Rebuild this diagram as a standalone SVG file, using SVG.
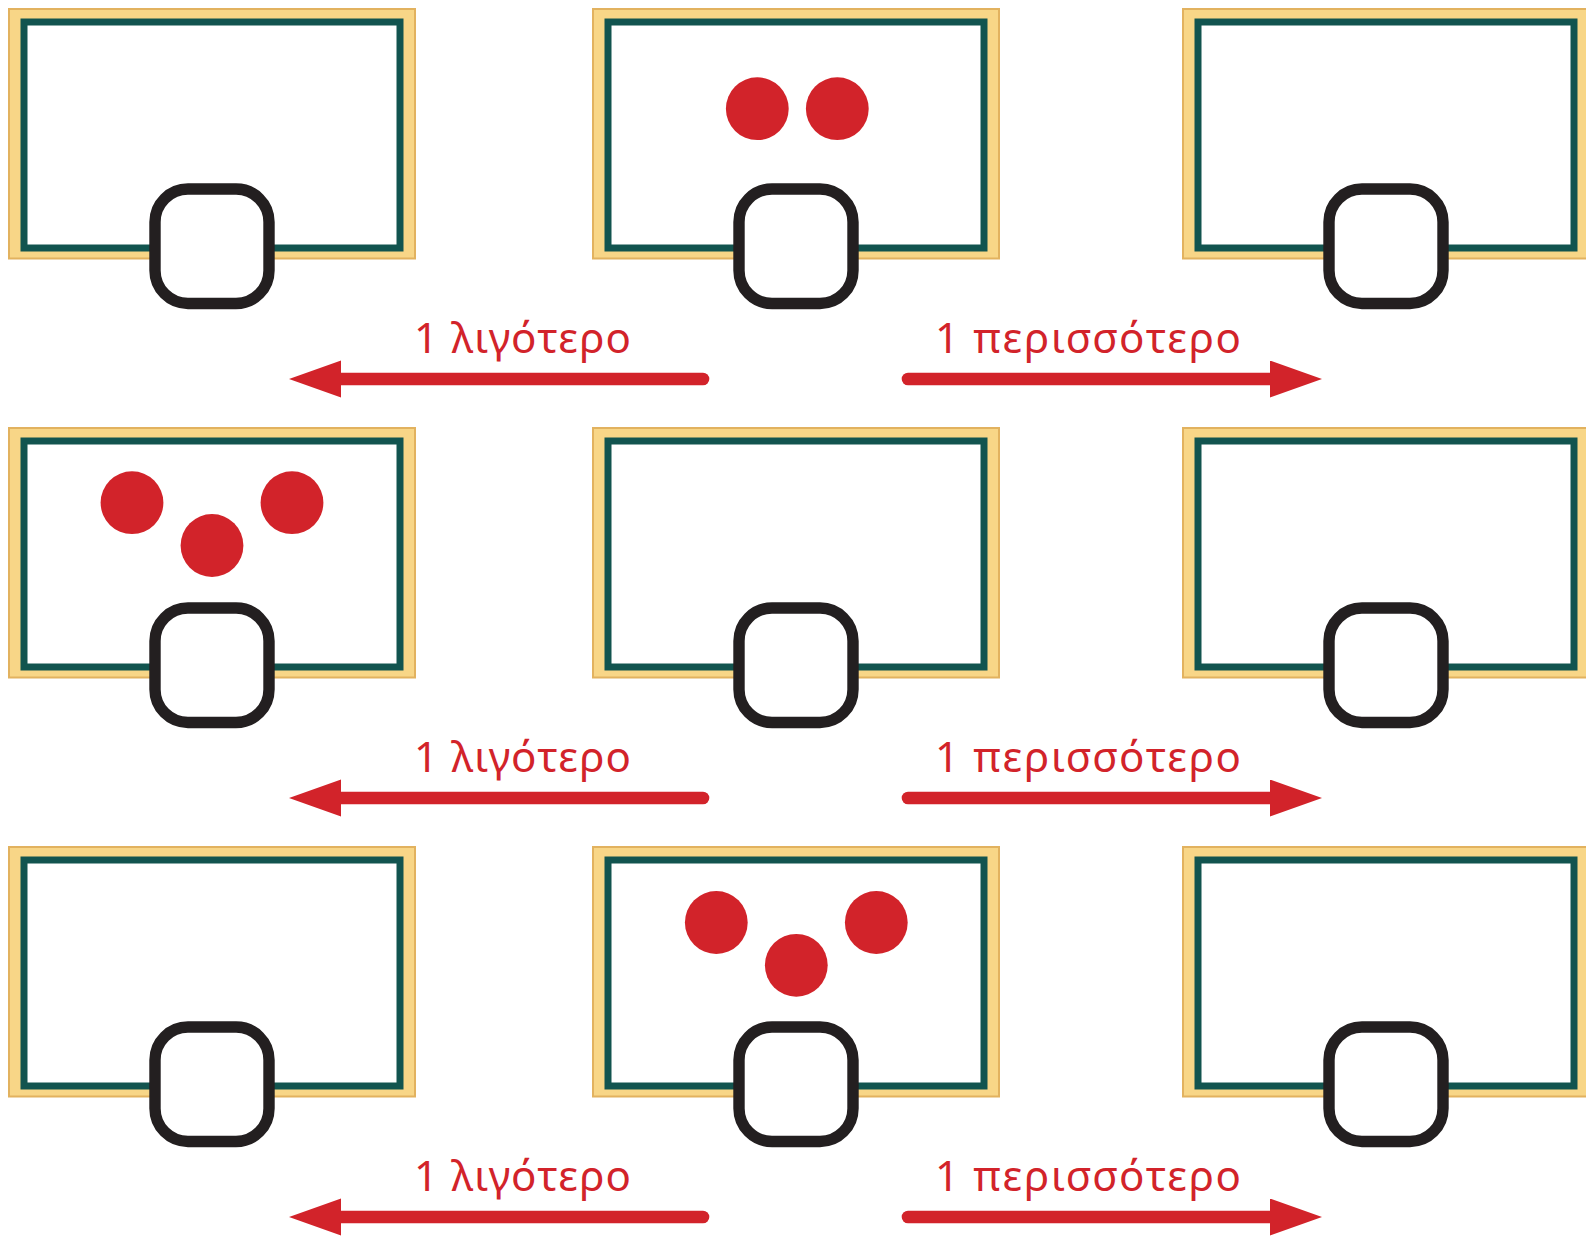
<svg xmlns="http://www.w3.org/2000/svg" width="1586" height="1238" viewBox="0 0 1586 1238">
<defs>
<style>
.frame{fill:#F8D687;stroke:#E2B25F;stroke-width:2}
.board{fill:#FFFFFF;stroke:#12544F;stroke-width:7}
.box{fill:#FFFFFF;stroke:#231F20;stroke-width:11.4}
.dot{fill:#D2232A}
.shaft{stroke:#D2232A;stroke-width:12.6;stroke-linecap:round;fill:none}
.lbl{fill:#D2232A;font-family:"Noto Sans","DejaVu Sans",sans-serif;font-size:42px}
</style>
<marker id="head" markerUnits="userSpaceOnUse" markerWidth="53" markerHeight="38" viewBox="0 0 53 38" refX="0" refY="18.5" orient="auto">
<path d="M0,0 L52,18.5 L0,37 Z" fill="#D2232A"/>
</marker>
<g id="panel">
<rect class="frame" x="9" y="9" width="406" height="249.5"/>
<rect class="board" x="24" y="22" width="376" height="226"/>
</g>
<rect id="sq" class="box" x="155" y="189" width="114" height="114.5" rx="33" ry="33"/>
</defs>

<g id="node-r1c1"><use href="#panel"/><use href="#sq"/></g>
<g id="node-r1c2" transform="translate(584,0)"><use href="#panel"/>
<circle class="dot" cx="173.3" cy="108.7" r="31.4"/><circle class="dot" cx="253.3" cy="108.7" r="31.4"/>
<use href="#sq"/></g>
<g id="node-r1c3" transform="translate(1174,0)"><use href="#panel"/><use href="#sq"/></g>

<g id="node-r2c1" transform="translate(0,419)"><use href="#panel"/>
<circle class="dot" cx="132" cy="83.7" r="31.4"/><circle class="dot" cx="212" cy="126.5" r="31.4"/><circle class="dot" cx="292" cy="83.7" r="31.4"/>
<use href="#sq"/></g>
<g id="node-r2c2" transform="translate(584,419)"><use href="#panel"/><use href="#sq"/></g>
<g id="node-r2c3" transform="translate(1174,419)"><use href="#panel"/><use href="#sq"/></g>

<g id="node-r3c1" transform="translate(0,838)"><use href="#panel"/><use href="#sq"/></g>
<g id="node-r3c2" transform="translate(584,838)"><use href="#panel"/>
<circle class="dot" cx="132.3" cy="84.5" r="31.4"/><circle class="dot" cx="212.3" cy="127.3" r="31.4"/><circle class="dot" cx="292.3" cy="84.5" r="31.4"/>
<use href="#sq"/></g>
<g id="node-r3c3" transform="translate(1174,838)"><use href="#panel"/><use href="#sq"/></g>

<g id="connectors">
<line class="shaft" x1="703" y1="379" x2="341" y2="379" marker-end="url(#head)"/>
<line class="shaft" x1="908" y1="379" x2="1270" y2="379" marker-end="url(#head)"/>
<line class="shaft" x1="703" y1="798" x2="341" y2="798" marker-end="url(#head)"/>
<line class="shaft" x1="908" y1="798" x2="1270" y2="798" marker-end="url(#head)"/>
<line class="shaft" x1="703" y1="1217" x2="341" y2="1217" marker-end="url(#head)"/>
<line class="shaft" x1="908" y1="1217" x2="1270" y2="1217" marker-end="url(#head)"/>
</g>

<g id="labels">
<text class="lbl" x="414" y="353.3" textLength="217">1 λιγότερο</text>
<text class="lbl" x="935" y="353.3" textLength="306">1 περισσότερο</text>
<text class="lbl" x="414" y="772.3" textLength="217">1 λιγότερο</text>
<text class="lbl" x="935" y="772.3" textLength="306">1 περισσότερο</text>
<text class="lbl" x="414" y="1191.3" textLength="217">1 λιγότερο</text>
<text class="lbl" x="935" y="1191.3" textLength="306">1 περισσότερο</text>
</g>
</svg>
